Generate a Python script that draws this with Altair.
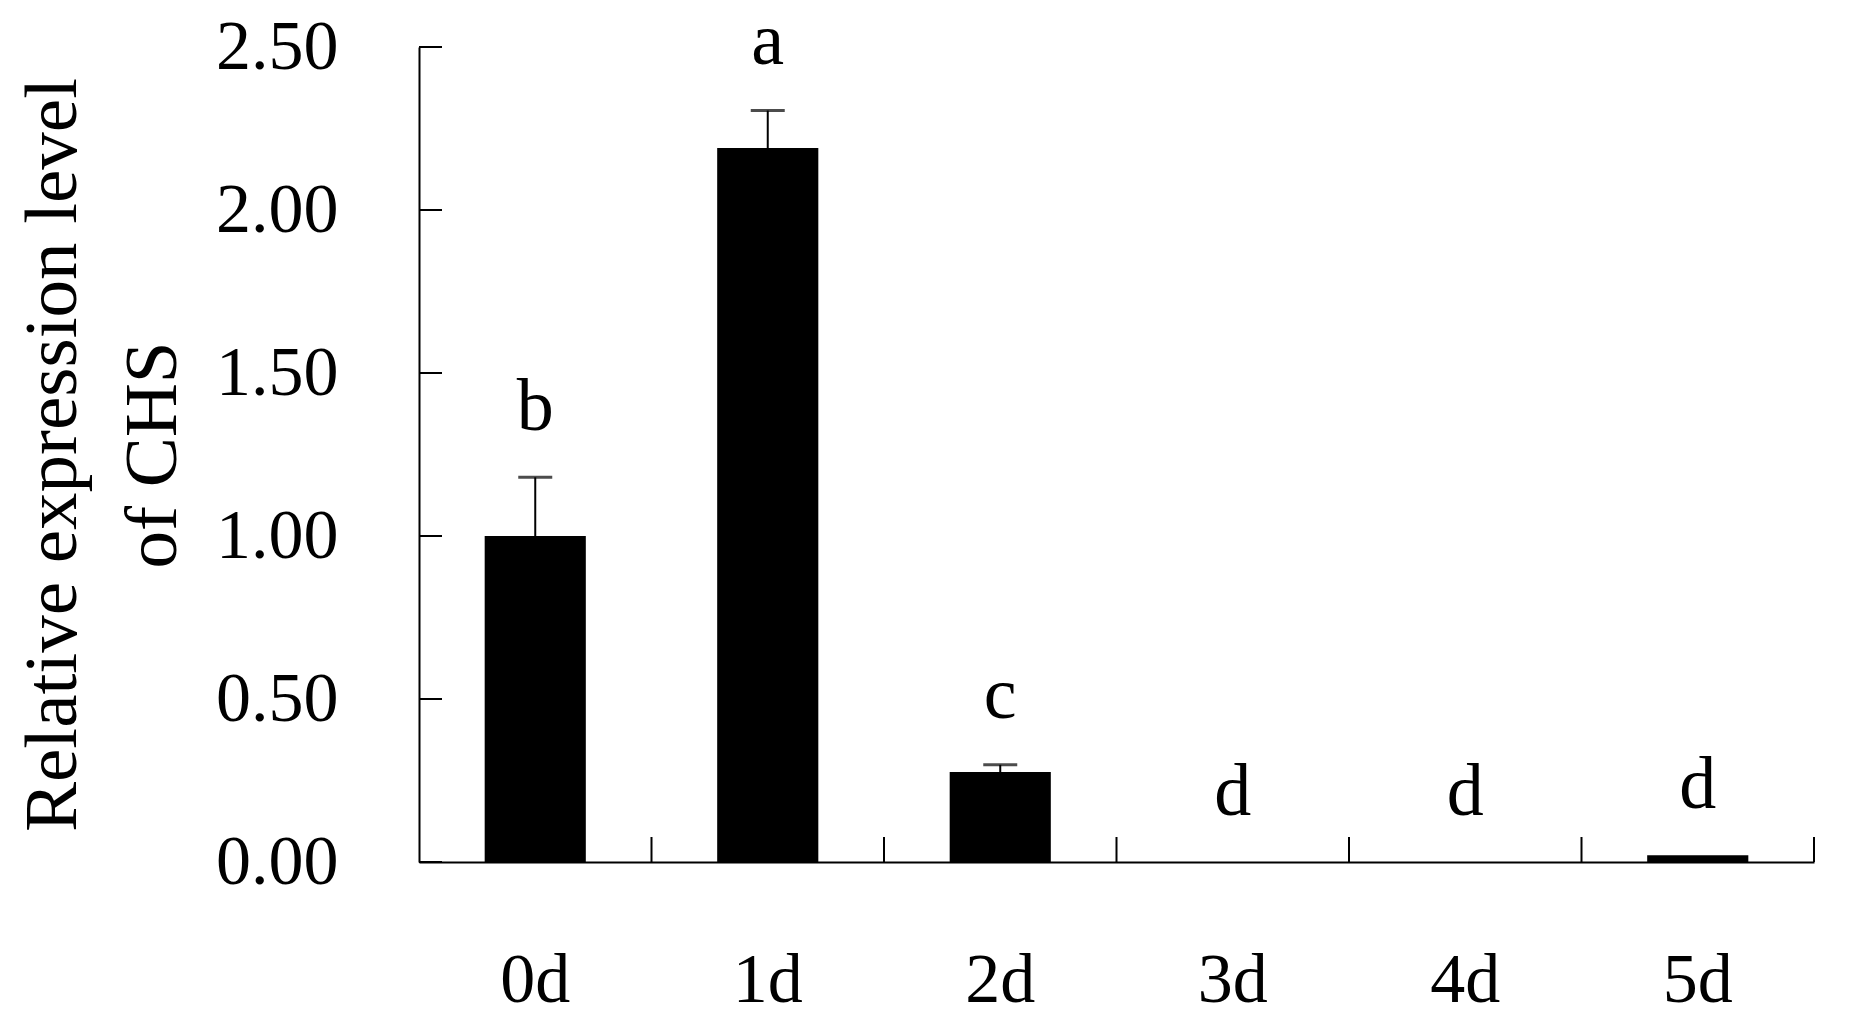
import altair as alt
import pandas as pd

days = ["0d", "1d", "2d", "3d", "4d", "5d"]
means = [1.00, 2.19, 0.276, 0.0, 0.0, 0.021]
errs = [0.18, 0.115, 0.022, 0.0, 0.0, 0.0]
letters = ["b", "a", "c", "d", "d", "d"]
y_ticks = [0.0, 0.5, 1.0, 1.5, 2.0, 2.5]

df = pd.DataFrame({"day": days, "mean": means, "err": errs, "letter": letters})
ticks_df = pd.DataFrame({"v": y_ticks})

FONT = "Liberation Serif"
W, H = 1395, 815

x_scale = alt.Scale(domain=days, paddingInner=0, paddingOuter=0)
y_scale = alt.Scale(domain=[0, 2.5], nice=False, zero=True)

x_enc = alt.X(
    "day:N",
    scale=x_scale,
    sort=days,
    axis=alt.Axis(
        title=None,
        labelAngle=0,
        labelFont=FONT,
        labelFontSize=70,
        labelColor="black",
        labelPadding=84,
        labelBaseline="top",
        ticks=False,
        tickSize=0,
        domain=True,
        domainColor="black",
        domainWidth=2,
        grid=False,
    ),
)

y_enc = alt.Y(
    "mean:Q",
    scale=y_scale,
    axis=alt.Axis(
        title=["Relative expression level", "of CHS"],
        titleFont=FONT,
        titleFontSize=75,
        titleFontWeight="normal",
        titleColor="black",
        titleAngle=-90,
        titleAlign="center",
        titleBaseline="alphabetic",
        titleLineHeight=100,
        titleX=-344,
        titleY=H / 2,
        values=y_ticks,
        format=".2f",
        labelFont=FONT,
        labelFontSize=70,
        labelColor="black",
        labelPadding=81,
        ticks=False,
        tickSize=0,
        domain=True,
        domainColor="black",
        domainWidth=2,
        grid=False,
    ),
)

base = alt.Chart(df)

bars = base.mark_bar(color="black", width={"band": 0.435}).encode(x=x_enc, y=y_enc)

err_df = base.transform_filter("datum.err > 0").transform_calculate(top="datum.mean + datum.err")

err_line = err_df.mark_rule(color="black", strokeWidth=2).encode(
    x=alt.X("day:N", scale=x_scale, sort=days),
    y=alt.Y("mean:Q", scale=y_scale),
    y2="top:Q",
)

err_cap = err_df.mark_tick(color="black", size=34, thickness=3, orient="horizontal").encode(
    x=alt.X("day:N", scale=x_scale, sort=days),
    y=alt.Y("top:Q", scale=y_scale),
)

labels = base.transform_calculate(top="datum.mean + datum.err").mark_text(
    font=FONT, fontSize=74, color="black", baseline="alphabetic", align="center", dy=-47
).encode(
    x=alt.X("day:N", scale=x_scale, sort=days),
    y=alt.Y("top:Q", scale=y_scale),
    text="letter:N",
)

y_tick_marks = alt.Chart(ticks_df).mark_rule(color="black", strokeWidth=2).encode(
    y=alt.Y("v:Q", scale=y_scale),
    x=alt.value(0),
    x2=alt.value(23),
)

x_tick_marks = base.mark_rule(color="black", strokeWidth=2).encode(
    x=alt.X("day:N", scale=x_scale, sort=days, bandPosition=1),
    y=alt.value(H),
    y2=alt.value(H - 25),
)

chart = (
    alt.layer(bars, err_line, err_cap, labels, y_tick_marks, x_tick_marks)
    .properties(
        width=W,
        height=H,
        autosize=alt.AutoSizeParams(type="none"),
        padding={"left": 411, "top": 39, "right": 20, "bottom": 168},
        background="white",
    )
    .configure_view(stroke=None)
)

chart.save("out.html", embed_options={"renderer": "svg", "actions": False})
